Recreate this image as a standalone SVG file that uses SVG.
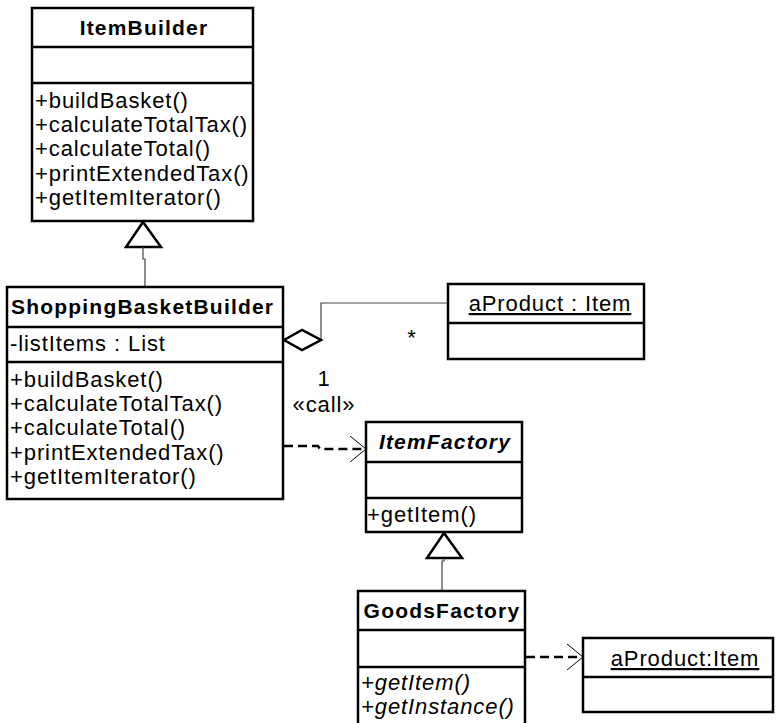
<svg xmlns="http://www.w3.org/2000/svg" width="777" height="723" viewBox="0 0 777 723">
<style>
.box{fill:#fff;stroke:#000;stroke-width:2.5}
.div{stroke:#000;stroke-width:2.5}
.t{font-family:"Liberation Sans",Arial,sans-serif;font-weight:bold;font-size:21px;letter-spacing:1.2px;fill:#000}
.m{font-family:"Liberation Sans",Arial,sans-serif;font-size:22px;letter-spacing:0.9px;fill:#000}
.i{font-style:italic}
.thin{fill:none;stroke:#444;stroke-width:1.2}
.tri{fill:#fff;stroke:#000;stroke-width:2.5;stroke-linejoin:miter}
.dash{fill:none;stroke:#000;stroke-width:2.5;stroke-dasharray:9,5}
.head{fill:none;stroke:#000;stroke-width:1}
</style>
<g id="connectors">
  <polygon class="tri" points="143,222 126,247 161,247"/>
  <polyline class="thin" points="143,247 143,259 145,259 145,287"/>
  <polygon class="tri" points="444,533 427,558 462,558"/>
  <polyline class="thin" points="444,558 444,561 442,561 442,591"/>
  <polyline class="thin" points="321,340 321,303 448,303"/>
  <polygon class="tri" points="284,340 302,330 321,340 302,350"/>
  <text class="m" x="412" y="345" text-anchor="middle">*</text>
  <text class="m" x="324" y="386" text-anchor="middle">1</text>
  <text class="m" x="324" y="412" text-anchor="middle">«call»</text>
  <polyline class="dash" points="284,446 318,446 320,449 365,449"/>
  <polyline class="head" points="350,436 366,449 350,462"/>
  <line class="dash" x1="526" y1="657" x2="582" y2="657"/>
  <polyline class="head" points="567,644 583,657 567,670"/>
</g>
<g id="ItemBuilder">
  <rect class="box" x="32" y="8" width="221" height="213"/>
  <line class="div" x1="32" y1="47" x2="253" y2="47"/>
  <line class="div" x1="32" y1="83" x2="253" y2="83"/>
  <text class="t" x="144" y="35" text-anchor="middle">ItemBuilder</text>
  <text class="m" x="35" y="108">+buildBasket()</text>
  <text class="m" x="35" y="132">+calculateTotalTax()</text>
  <text class="m" x="35" y="156">+calculateTotal()</text>
  <text class="m" x="35" y="181">+printExtendedTax()</text>
  <text class="m" x="35" y="205">+getItemIterator()</text>
</g>
<g id="ShoppingBasketBuilder">
  <rect class="box" x="7" y="287" width="276" height="212"/>
  <line class="div" x1="7" y1="327" x2="283" y2="327"/>
  <line class="div" x1="7" y1="362" x2="283" y2="362"/>
  <text class="t" x="11" y="314">ShoppingBasketBuilder</text>
  <text class="m" x="10" y="351">-listItems : List</text>
  <text class="m" x="10" y="387">+buildBasket()</text>
  <text class="m" x="10" y="411">+calculateTotalTax()</text>
  <text class="m" x="10" y="435">+calculateTotal()</text>
  <text class="m" x="10" y="460">+printExtendedTax()</text>
  <text class="m" x="10" y="484">+getItemIterator()</text>
</g>
<g id="aProduct1">
  <rect class="box" x="448" y="284" width="196" height="75"/>
  <line class="div" x1="448" y1="323" x2="644" y2="323"/>
  <text class="m" x="550" y="311" text-anchor="middle" text-decoration="underline">aProduct : Item</text>
</g>
<g id="ItemFactory">
  <rect class="box" x="366" y="422" width="156" height="110"/>
  <line class="div" x1="366" y1="462" x2="522" y2="462"/>
  <line class="div" x1="366" y1="498" x2="522" y2="498"/>
  <text class="t i" x="445" y="449" text-anchor="middle">ItemFactory</text>
  <text class="m" x="367" y="522">+getItem()</text>
</g>
<g id="GoodsFactory">
  <path class="box" d="M358,724 V591 H525 V724"/>
  <line class="div" x1="358" y1="630" x2="525" y2="630"/>
  <line class="div" x1="358" y1="667" x2="525" y2="667"/>
  <text class="t" x="442" y="618" text-anchor="middle">GoodsFactory</text>
  <text class="m i" x="361" y="690">+getItem()</text>
  <text class="m i" x="361" y="714">+getInstance()</text>
</g>
<g id="aProduct2">
  <rect class="box" x="583" y="638" width="190" height="74"/>
  <line class="div" x1="583" y1="677" x2="773" y2="677"/>
  <text class="m" x="685" y="666" text-anchor="middle" text-decoration="underline">aProduct:Item</text>
</g>
</svg>
